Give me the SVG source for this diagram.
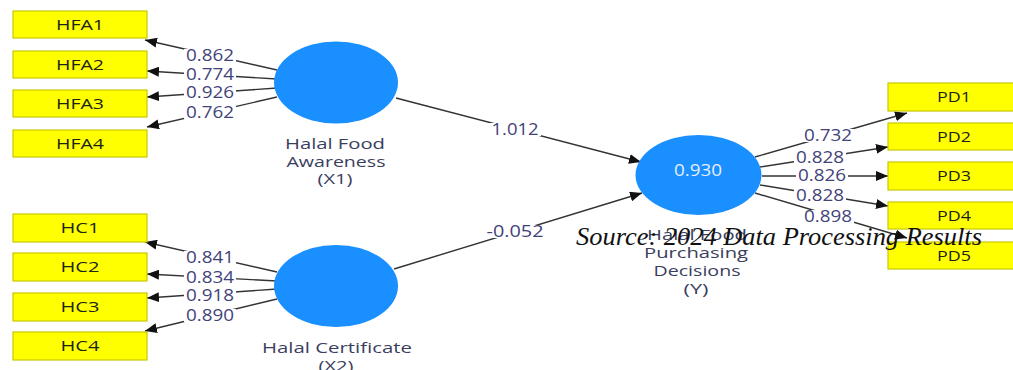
<svg xmlns="http://www.w3.org/2000/svg" width="1013" height="370" viewBox="0 0 1013 370">
<style>
.box{fill:#ffff00;stroke:#c8c800;stroke-width:1.2}
.bt{font-family:"Open Sans","Noto Sans",sans-serif;font-size:14px;fill:#1a241a;text-anchor:middle}
.lat{fill:#1a8fff}
.lt{font-family:"Open Sans","Noto Sans",sans-serif;font-size:15px;fill:#3a3e5e;text-anchor:middle}
.num{font-family:"Open Sans","Noto Sans",sans-serif;font-size:16px;fill:#42427a;text-anchor:middle}
.bg{fill:#ffffff}
.ln{stroke:#333333;stroke-width:1.4;fill:none;marker-end:url(#ah)}
.src{font-family:"Liberation Serif",serif;font-style:italic;font-size:25px;fill:#111111}
</style>
<defs>
<marker id="ah" viewBox="0 0 12 10" refX="12" refY="5" markerWidth="12" markerHeight="10" markerUnits="userSpaceOnUse" orient="auto">
<path d="M0,0 L12,5 L0,10 z" fill="#111111"/>
</marker>
</defs>
<g id="connectors">
<line class="ln" x1="277" y1="70" x2="145" y2="40"/>
<line class="ln" x1="277" y1="79" x2="147" y2="71"/>
<line class="ln" x1="277" y1="88" x2="147" y2="97"/>
<line class="ln" x1="277" y1="97" x2="147" y2="127"/>
<line class="ln" x1="277" y1="272" x2="145" y2="242"/>
<line class="ln" x1="277" y1="281" x2="147" y2="274"/>
<line class="ln" x1="277" y1="289" x2="147" y2="298"/>
<line class="ln" x1="277" y1="299" x2="145" y2="331"/>
<line class="ln" x1="396" y1="98" x2="641" y2="162"/>
<line class="ln" x1="394" y1="269" x2="642" y2="193"/>
<line class="ln" x1="755" y1="157" x2="907" y2="113"/>
<line class="ln" x1="760" y1="167" x2="888" y2="147"/>
<line class="ln" x1="762" y1="176" x2="888" y2="176"/>
<line class="ln" x1="760" y1="185" x2="888" y2="206"/>
<line class="ln" x1="755" y1="193" x2="907" y2="238"/>
<rect class="bg" x="184" y="49" width="52" height="13"/>
<rect class="bg" x="184" y="68" width="52" height="13"/>
<rect class="bg" x="184" y="86" width="52" height="13"/>
<rect class="bg" x="184" y="106" width="52" height="13"/>
<rect class="bg" x="184" y="251" width="52" height="13"/>
<rect class="bg" x="184" y="271" width="52" height="13"/>
<rect class="bg" x="184" y="289" width="52" height="13"/>
<rect class="bg" x="184" y="309" width="52" height="13"/>
<rect class="bg" x="489" y="123" width="52" height="13"/>
<rect class="bg" x="484" y="225" width="62" height="13"/>
<rect class="bg" x="802" y="129" width="52" height="13"/>
<rect class="bg" x="794" y="151" width="52" height="13"/>
<rect class="bg" x="796" y="169" width="52" height="13"/>
<rect class="bg" x="794" y="189" width="52" height="13"/>
<rect class="bg" x="802" y="210" width="52" height="13"/>
<text class="num" x="210" y="61" textLength="48" lengthAdjust="spacingAndGlyphs">0.862</text>
<text class="num" x="210" y="80" textLength="48" lengthAdjust="spacingAndGlyphs">0.774</text>
<text class="num" x="210" y="98" textLength="48" lengthAdjust="spacingAndGlyphs">0.926</text>
<text class="num" x="210" y="118" textLength="48" lengthAdjust="spacingAndGlyphs">0.762</text>
<text class="num" x="210" y="263" textLength="48" lengthAdjust="spacingAndGlyphs">0.841</text>
<text class="num" x="210" y="283" textLength="48" lengthAdjust="spacingAndGlyphs">0.834</text>
<text class="num" x="210" y="301" textLength="48" lengthAdjust="spacingAndGlyphs">0.918</text>
<text class="num" x="210" y="321" textLength="48" lengthAdjust="spacingAndGlyphs">0.890</text>
<text class="num" x="515" y="135" textLength="47" lengthAdjust="spacingAndGlyphs">1.012</text>
<text class="num" x="515" y="237" textLength="57" lengthAdjust="spacingAndGlyphs">-0.052</text>
<text class="num" x="828" y="141" textLength="48" lengthAdjust="spacingAndGlyphs">0.732</text>
<text class="num" x="820" y="163" textLength="48" lengthAdjust="spacingAndGlyphs">0.828</text>
<text class="num" x="822" y="181" textLength="48" lengthAdjust="spacingAndGlyphs">0.826</text>
<text class="num" x="820" y="201" textLength="48" lengthAdjust="spacingAndGlyphs">0.828</text>
<text class="num" x="828" y="222" textLength="48" lengthAdjust="spacingAndGlyphs">0.898</text>
</g>
<g id="HFA1"><rect class="box" x="13" y="11" width="134" height="27"/><text class="bt" x="80" y="30" textLength="48" lengthAdjust="spacingAndGlyphs">HFA1</text></g>
<g id="HFA2"><rect class="box" x="13" y="51" width="134" height="27"/><text class="bt" x="80" y="70" textLength="48" lengthAdjust="spacingAndGlyphs">HFA2</text></g>
<g id="HFA3"><rect class="box" x="13" y="90" width="134" height="27"/><text class="bt" x="80" y="109" textLength="48" lengthAdjust="spacingAndGlyphs">HFA3</text></g>
<g id="HFA4"><rect class="box" x="13" y="130" width="134" height="27"/><text class="bt" x="80" y="149" textLength="48" lengthAdjust="spacingAndGlyphs">HFA4</text></g>
<g id="HC1"><rect class="box" x="13" y="214" width="134" height="28"/><text class="bt" x="80" y="233" textLength="39" lengthAdjust="spacingAndGlyphs">HC1</text></g>
<g id="HC2"><rect class="box" x="13" y="253" width="134" height="28"/><text class="bt" x="80" y="272" textLength="39" lengthAdjust="spacingAndGlyphs">HC2</text></g>
<g id="HC3"><rect class="box" x="13" y="293" width="134" height="28"/><text class="bt" x="80" y="312" textLength="39" lengthAdjust="spacingAndGlyphs">HC3</text></g>
<g id="HC4"><rect class="box" x="13" y="332" width="134" height="28"/><text class="bt" x="80" y="351" textLength="39" lengthAdjust="spacingAndGlyphs">HC4</text></g>
<g id="PD1"><rect class="box" x="888" y="83" width="130" height="28"/><text class="bt" x="954" y="102" textLength="34" lengthAdjust="spacingAndGlyphs">PD1</text></g>
<g id="PD2"><rect class="box" x="888" y="123" width="130" height="27"/><text class="bt" x="954" y="142" textLength="34" lengthAdjust="spacingAndGlyphs">PD2</text></g>
<g id="PD3"><rect class="box" x="888" y="162" width="130" height="28"/><text class="bt" x="954" y="181" textLength="34" lengthAdjust="spacingAndGlyphs">PD3</text></g>
<g id="PD4"><rect class="box" x="888" y="202" width="130" height="27"/><text class="bt" x="954" y="221" textLength="34" lengthAdjust="spacingAndGlyphs">PD4</text></g>
<g id="PD5"><rect class="box" x="888" y="242" width="130" height="27"/><text class="bt" x="954" y="261" textLength="34" lengthAdjust="spacingAndGlyphs">PD5</text></g>
<g id="X1">
<ellipse class="lat" cx="336" cy="82.5" rx="62" ry="41"/>
<text class="lt" x="335" y="149" textLength="100" lengthAdjust="spacingAndGlyphs">Halal Food</text>
<text class="lt" x="336" y="167" textLength="99" lengthAdjust="spacingAndGlyphs">Awareness</text>
<text class="lt" x="335" y="184" textLength="35" lengthAdjust="spacingAndGlyphs">(X1)</text>
</g>
<g id="X2">
<ellipse class="lat" cx="336" cy="286" rx="62" ry="41"/>
<text class="lt" x="337" y="353" textLength="150" lengthAdjust="spacingAndGlyphs">Halal Certificate</text>
<text class="lt" x="336" y="371" textLength="35" lengthAdjust="spacingAndGlyphs">(X2)</text>
</g>
<g id="Y">
<ellipse class="lat" cx="698.5" cy="175" rx="63" ry="40"/>
<text class="lt" x="698" y="176" textLength="48" lengthAdjust="spacingAndGlyphs" style="fill:#e6eeff;font-size:16px">0.930</text>
<text class="lt" x="697" y="240" textLength="100" lengthAdjust="spacingAndGlyphs">Halal Food</text>
<text class="lt" x="696" y="258" textLength="104" lengthAdjust="spacingAndGlyphs">Purchasing</text>
<text class="lt" x="697" y="276" textLength="87" lengthAdjust="spacingAndGlyphs">Decisions</text>
<text class="lt" x="696" y="294" textLength="25" lengthAdjust="spacingAndGlyphs">(Y)</text>
</g>
<text class="src" x="576" y="245" textLength="406" lengthAdjust="spacingAndGlyphs">Source: 2024 Data Processing Results</text>
</svg>
